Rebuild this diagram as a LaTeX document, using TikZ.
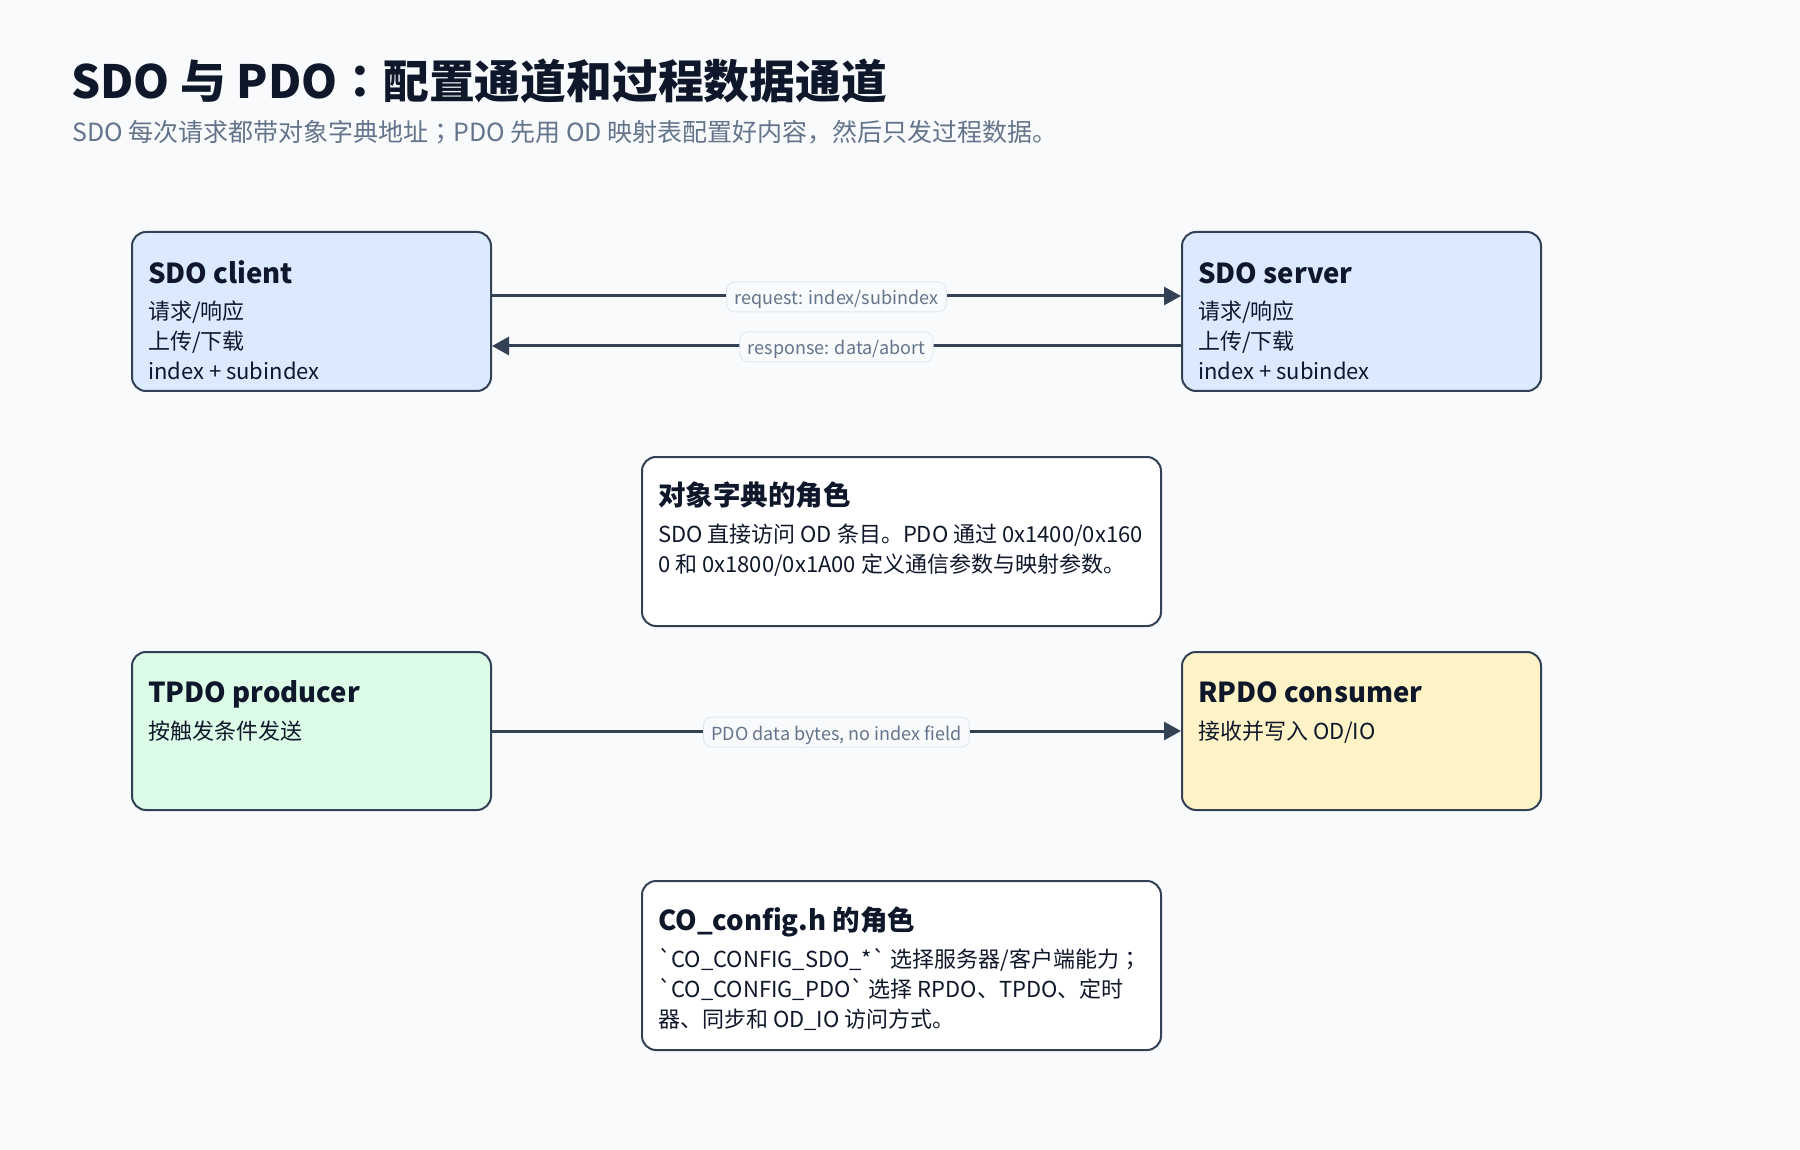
\documentclass[tikz,border=0pt]{standalone}
\usepackage{fontspec}
\setmainfont{Noto Sans CJK SC}
\newfontfamily\jpf{Noto Sans CJK JP}
\newfontfamily\gravef{Noto Sans CJK SC}
\newcommand{\bq}{{\gravef\symbol{96}}}
\usetikzlibrary{arrows.meta}
\definecolor{bgc}{HTML}{F8FAFC}
\definecolor{edgec}{HTML}{334155}
\definecolor{titlec}{HTML}{0F172A}
\definecolor{subc}{HTML}{64748B}
\definecolor{bluef}{HTML}{DBEAFE}
\definecolor{greenf}{HTML}{DCFCE7}
\definecolor{amberf}{HTML}{FEF3C7}
\definecolor{lblborder}{HTML}{E2E8F0}
\tikzset{
  card/.style={draw=edgec, line width=2pt, rounded corners=14pt, anchor=north west, inner sep=0pt},
  cardtitle/.style={anchor=base west, inner sep=0pt, text=titlec, font=\fontsize{27.5pt}{32pt}\selectfont\bfseries},
  cardbody/.style={anchor=base west, inner sep=0pt, text=titlec, font=\fontsize{22pt}{29pt}\selectfont, align=left},
  flow/.style={draw=edgec, line width=3pt, -{Triangle[length=17pt, width=18pt]}},
  flowlabel/.style={fill=bgc, draw=lblborder, line width=1pt, rounded corners=8pt, text=subc, font=\fontsize{18pt}{20pt}\selectfont, inner xsep=8pt, inner ysep=6pt, text height=17pt, text depth=1pt, yshift=-1pt}
}
\begin{document}
\begin{tikzpicture}[x=1pt,y=-1pt]
\fill[bgc] (0,0) rectangle (1800,1150);
\useasboundingbox (0,0) rectangle (1800,1150);

\node[anchor=base west, inner sep=0pt, text=titlec, font=\fontsize{45.8pt}{50pt}\selectfont\bfseries] (title) at (71,98.5) {SDO 与 PDO{\jpf\bfseries ：}配置通道和过程数据通道};
\node[anchor=base west, inner sep=0pt, text=subc, font=\fontsize{25pt}{28pt}\selectfont] (subtitle) at (72,142) {SDO 每次请求都带对象字典地址{\jpf ；}PDO 先用 OD 映射表配置好内容，然后只发过程数据。};

% cards
\node[card, fill=bluef, minimum width=359pt, minimum height=159pt] (client) at (131,231) {};
\node[card, fill=bluef, minimum width=359pt, minimum height=159pt] (server) at (1181,231) {};
\node[card, fill=white, minimum width=519pt, minimum height=169pt] (od) at (641,456) {};
\node[card, fill=greenf, minimum width=359pt, minimum height=158pt] (tpdo) at (131,651) {};
\node[card, fill=amberf, minimum width=359pt, minimum height=158pt] (rpdo) at (1181,651) {};
\node[card, fill=white, minimum width=519pt, minimum height=169pt] (cfg) at (641,880) {};

% card texts
\node[cardtitle] (clientT) at (148,283.5) {SDO client};
\node[cardbody] (clientB1) at (148,320) {请求/响应};
\node[cardbody] (clientB2) at (148,350) {上传/下载};
\node[cardbody] (clientB3) at (148,380) {index + subindex};

\node[cardtitle] (serverT) at (1198,283.5) {SDO server};
\node[cardbody] (serverB1) at (1198,320) {请求/响应};
\node[cardbody] (serverB2) at (1198,350) {上传/下载};
\node[cardbody] (serverB3) at (1198,380) {index + subindex};

\node[cardtitle] (odT) at (658,505) {对象字典的角色};
\node[cardbody] (odB1) at (658,542) {SDO 直接访问 OD 条目。PDO 通过 0x1400/0x160};
\node[cardbody] (odB2) at (658,572) {0 和 0x1800/0x1A00 定义通信参数与映射参数。};

\node[cardtitle] (tpdoT) at (148,702) {TPDO producer};
\node[cardbody] (tpdoB1) at (148,739) {按触发条件发送};

\node[cardtitle] (rpdoT) at (1198,702) {RPDO consumer};
\node[cardbody] (rpdoB1) at (1198,739) {接收并写入 OD/IO};

\node[cardtitle] (cfgT) at (658,930) {CO\_config.h 的角色};
\node[cardbody] (cfgB1) at (658,967) {\bq CO\_CONFIG\_SDO\_*\bq{} 选择服务器/客户端能力{\jpf ；}};
\node[cardbody] (cfgB2) at (658,997) {\bq CO\_CONFIG\_PDO\bq{} 选择 RPDO、TPDO、定时};
\node[cardbody] (cfgB3) at (658,1027) {器、同步和 OD\_IO 访问方式。};

% connectors
\draw[flow] ([yshift=15.5pt]client.east) -- node[flowlabel] (reqL) {request: index/subindex} ([yshift=15.5pt]server.west);
\draw[flow] ([yshift=-34.5pt]server.west) -- node[flowlabel] (respL) {response: data/abort} ([yshift=-34.5pt]client.east);
\draw[flow] (tpdo.east) -- node[flowlabel] (pdoL) {PDO data bytes, no index field} (rpdo.west);
\end{tikzpicture}
\end{document}
